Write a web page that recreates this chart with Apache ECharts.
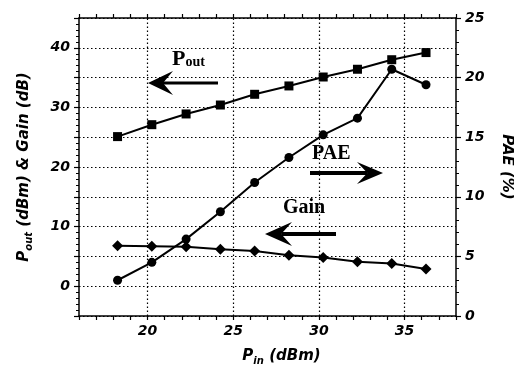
<!DOCTYPE html>
<html>
<head>
<meta charset="utf-8">
<script src="https://cdn.jsdelivr.net/npm/echarts@6/dist/echarts.min.js"></script>
<style>
html,body{margin:0;padding:0;background:#fff;}
#c{width:514px;height:370px;}
</style>
</head>
<body>
<div id="c"></div>
<script>
// ---- data ----
const pin  = [18.25, 20.25, 22.25, 24.25, 26.25, 28.25, 30.25, 32.25, 34.25, 36.25];
const pout = [25.1, 27.1, 28.9, 30.4, 32.2, 33.6, 35.1, 36.4, 38.0, 39.2];
const gain = [6.8, 6.7, 6.6, 6.2, 5.9, 5.2, 4.8, 4.1, 3.8, 2.9];
const pae  = [3.0, 4.5, 6.45, 8.75, 11.2, 13.3, 15.2, 16.6, 20.7, 19.4];
const xTickLabels = [20, 25, 30, 35];
const leftTickLabels = [0, 10, 20, 30, 40];
const rightTickLabels = [0, 5, 10, 15, 20, 25];
const xGridValues = [20, 25, 30, 35];

const pair = (xs, ys) => xs.map((x, i) => [x, ys[i]]);

const tickFont = {fontFamily: 'DejaVu Sans', fontWeight: 'bold', fontStyle: 'italic', fontSize: 14, color: '#000'};
const nameRich = {
  b: {fontFamily: 'DejaVu Sans', fontWeight: 'bold', fontStyle: 'italic', fontSize: 15, color: '#000'},
  s: {fontFamily: 'DejaVu Sans', fontWeight: 'bold', fontStyle: 'italic', fontSize: 10, color: '#000', verticalAlign: 'bottom', padding: [10, 0, 0, 0]}
};
const black = '#000';

function arrow(tipX, y, tailX, barbLen, barbHalf, shaft) {
  const d = tailX > tipX ? 1 : -1;
  const notch = tipX + d * barbLen * 0.6;
  return [
    {type: 'rect', shape: {x: Math.min(notch, tailX), y: y - shaft / 2, width: Math.abs(tailX - notch), height: shaft}, style: {fill: black}, silent: true},
    {type: 'polygon', shape: {points: [[tipX, y], [tipX + d * barbLen, y - barbHalf], [notch, y], [tipX + d * barbLen, y + barbHalf]]}, style: {fill: black}, silent: true}
  ];
}

const chart = echarts.init(document.getElementById('c'), null, {renderer: 'canvas'});
const option = {
  animation: false,
  backgroundColor: '#fff',
  grid: {left: 79, right: 58, top: 18, bottom: 54, containLabel: false, outerBoundsMode: 'none'},
  xAxis: [{
    type: 'value', min: 16, max: 38, interval: 1, position: 'bottom',
    axisLine: {show: true, onZero: false, lineStyle: {color: black, width: 1.5}},
    axisTick: {show: true, inside: false, length: 4, lineStyle: {color: black, width: 1.2}},
    axisLabel: Object.assign({margin: 8, formatter: v => xTickLabels.includes(v) ? String(v) : ''}, tickFont),
    splitLine: {show: false},
    name: '{b|P}{s|in}{b| (dBm)}', nameLocation: 'middle', nameGap: 30,
    nameTextStyle: {rich: nameRich, padding: [0, 0, 0, 28]}
  }, {
    type: 'value', min: 16, max: 38, interval: 1, position: 'top',
    axisLine: {show: true, onZero: false, lineStyle: {color: black, width: 1.5}},
    axisTick: {show: true, inside: false, length: 4, lineStyle: {color: black, width: 1.2}},
    axisLabel: {show: false}, splitLine: {show: false}
  }],
  yAxis: [{
    type: 'value', min: -5, max: 45, interval: 5, position: 'left',
    axisLine: {show: true, onZero: false, lineStyle: {color: black, width: 1.5}},
    axisTick: {show: true, inside: false, length: 5, lineStyle: {color: black, width: 1.2}},
    minorTick: {show: true, splitNumber: 5, length: 3, lineStyle: {color: black, width: 1}},
    axisLabel: Object.assign({margin: 9, formatter: v => leftTickLabels.includes(v) ? String(v) : ''}, tickFont),
    splitLine: {show: true, lineStyle: {color: black, type: [1.5, 2.5], width: 1.2}},
    name: '{b|P}{s|out}{b| (dBm) & Gain (dB)}', nameLocation: 'middle', nameGap: 45, nameRotate: 90,
    nameTextStyle: {rich: nameRich}
  }, {
    type: 'value', min: 0, max: 25, interval: 5, position: 'right',
    axisLine: {show: true, onZero: false, lineStyle: {color: black, width: 1.5}},
    axisTick: {show: true, inside: false, length: 5, lineStyle: {color: black, width: 1.2}},
    minorTick: {show: true, splitNumber: 5, length: 3, lineStyle: {color: black, width: 1}},
    axisLabel: Object.assign({margin: 9, formatter: v => rightTickLabels.includes(v) ? String(v) : ''}, tickFont),
    splitLine: {show: false},
    name: '{b|PAE (%)}', nameLocation: 'middle', nameGap: 43, nameRotate: -90,
    nameTextStyle: {rich: nameRich}
  }],
  series: [{
    name: 'Pout', type: 'line', xAxisIndex: 0, yAxisIndex: 0,
    data: pair(pin, pout), symbol: 'rect', symbolSize: 9,
    lineStyle: {color: black, width: 2}, itemStyle: {color: black},
    markLine: {
      silent: true, symbol: ['none', 'none'], label: {show: false},
      lineStyle: {color: black, type: [1.5, 2.5], width: 1.2},
      data: xGridValues.map(v => ({xAxis: v}))
    }
  }, {
    name: 'Gain', type: 'line', xAxisIndex: 0, yAxisIndex: 0,
    data: pair(pin, gain), symbol: 'diamond', symbolSize: 11,
    lineStyle: {color: black, width: 2}, itemStyle: {color: black}
  }, {
    name: 'PAE', type: 'line', xAxisIndex: 0, yAxisIndex: 1,
    data: pair(pin, pae), symbol: 'circle', symbolSize: 9,
    lineStyle: {color: black, width: 2}, itemStyle: {color: black}
  }],
  graphic: [].concat(
    [{type: 'text', x: 172, y: 70, silent: true,
      style: {text: '{a|P}{b|out}', verticalAlign: 'bottom',
        rich: {a: {fontFamily: 'Liberation Serif', fontWeight: 'bold', fontSize: 22, fill: black},
               b: {fontFamily: 'Liberation Serif', fontWeight: 'bold', fontSize: 14, fill: black, padding: [6, 0, 0, 0]}}}},
     {type: 'text', x: 312, y: 164, silent: true,
      style: {text: 'PAE', verticalAlign: 'bottom', font: 'bold 20px "Liberation Serif"', fill: black}},
     {type: 'text', x: 283, y: 218, silent: true,
      style: {text: 'Gain', verticalAlign: 'bottom', font: 'bold 20px "Liberation Serif"', fill: black}}],
    arrow(148, 83, 218, 25, 12, 3),
    arrow(383, 173, 310, 26, 11, 4),
    arrow(265, 234, 336, 27, 12, 4)
  )
};
chart.setOption(option);
</script>
</body>
</html>
